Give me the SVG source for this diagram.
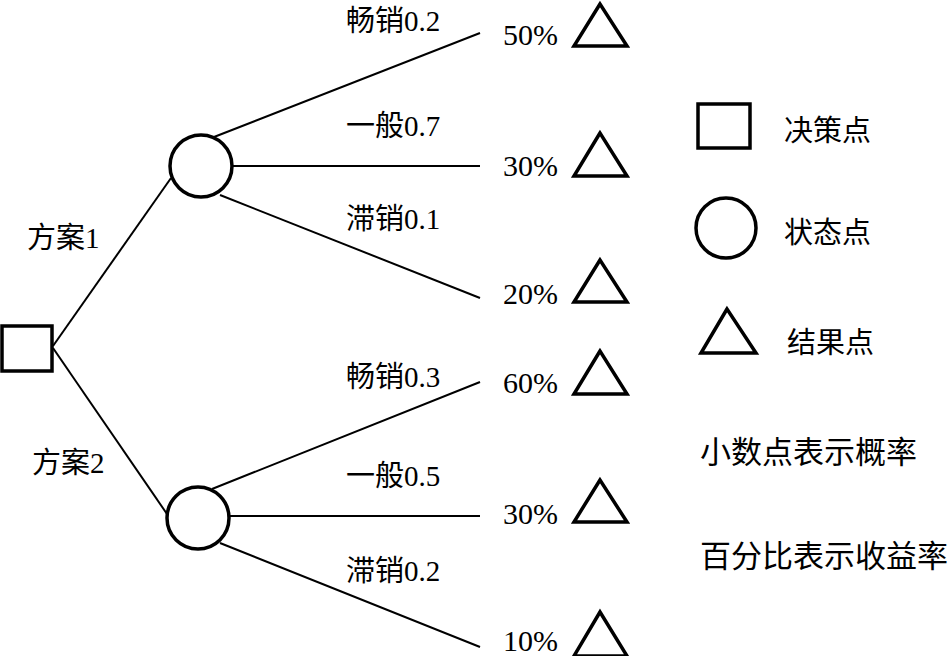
<svg xmlns="http://www.w3.org/2000/svg" width="948" height="656" viewBox="0 0 948 656">
<style>
.t{font-family:"Liberation Serif","Noto Sans CJK SC",serif;font-size:29px;fill:#000}
.p{font-size:30px}
.b{font-size:31px}
.s{fill:#fff;stroke:#000;stroke-width:3.5}
.c line{stroke:#000;stroke-width:2}
</style>
<rect width="948" height="656" fill="#fff"/>
<g class="c" id="connectors">
<line x1="53" y1="346" x2="171" y2="178"/>
<line x1="53" y1="348" x2="167" y2="514"/>
<line x1="214" y1="137" x2="480" y2="33"/>
<line x1="232" y1="166" x2="480" y2="166"/>
<line x1="220" y1="195" x2="480" y2="298"/>
<line x1="212" y1="489" x2="480" y2="382"/>
<line x1="230" y1="516" x2="480" y2="516"/>
<line x1="220" y1="543" x2="480" y2="647"/>
</g>
<g id="decision"><rect class="s" x="2" y="326" width="50" height="45"/></g>
<g id="state1"><circle class="s" cx="201" cy="166" r="31"/></g>
<g id="state2"><circle class="s" cx="198" cy="518" r="31"/></g>
<g id="r1"><polygon class="s" points="600,4 574,46 627,46"/></g>
<g id="r2"><polygon class="s" points="600,133 574,176 627,176"/></g>
<g id="r3"><polygon class="s" points="600,260 574,302 627,302"/></g>
<g id="r4"><polygon class="s" points="600,351 574,394 627,394"/></g>
<g id="r5"><polygon class="s" points="600,480 574,522 627,522"/></g>
<g id="r6"><polygon class="s" points="600,612 574,656 627,656"/></g>
<g id="labels">
<text class="t" x="27" y="248">方案1</text>
<text class="t" x="32" y="473">方案2</text>
<text class="t" x="346" y="31">畅销0.2</text>
<text class="t" x="346" y="136">一般0.7</text>
<text class="t" x="346" y="229">滞销0.1</text>
<text class="t" x="346" y="387">畅销0.3</text>
<text class="t" x="346" y="486">一般0.5</text>
<text class="t" x="346" y="581">滞销0.2</text>
<text class="t p" x="503" y="45">50%</text>
<text class="t p" x="503" y="176">30%</text>
<text class="t p" x="503" y="304">20%</text>
<text class="t p" x="503" y="393">60%</text>
<text class="t p" x="503" y="524">30%</text>
<text class="t p" x="503" y="651">10%</text>
</g>
<g id="legend">
<rect class="s" x="698" y="104" width="52" height="44"/>
<circle class="s" cx="726" cy="228" r="30"/>
<polygon class="s" points="727,309 701,353 756,353"/>
<text class="t" x="784" y="141">决策点</text>
<text class="t" x="784" y="243">状态点</text>
<text class="t" x="787" y="353">结果点</text>
<text class="t b" x="700" y="463">小数点表示概率</text>
<text class="t b" x="700" y="567">百分比表示收益率</text>
</g>
</svg>
